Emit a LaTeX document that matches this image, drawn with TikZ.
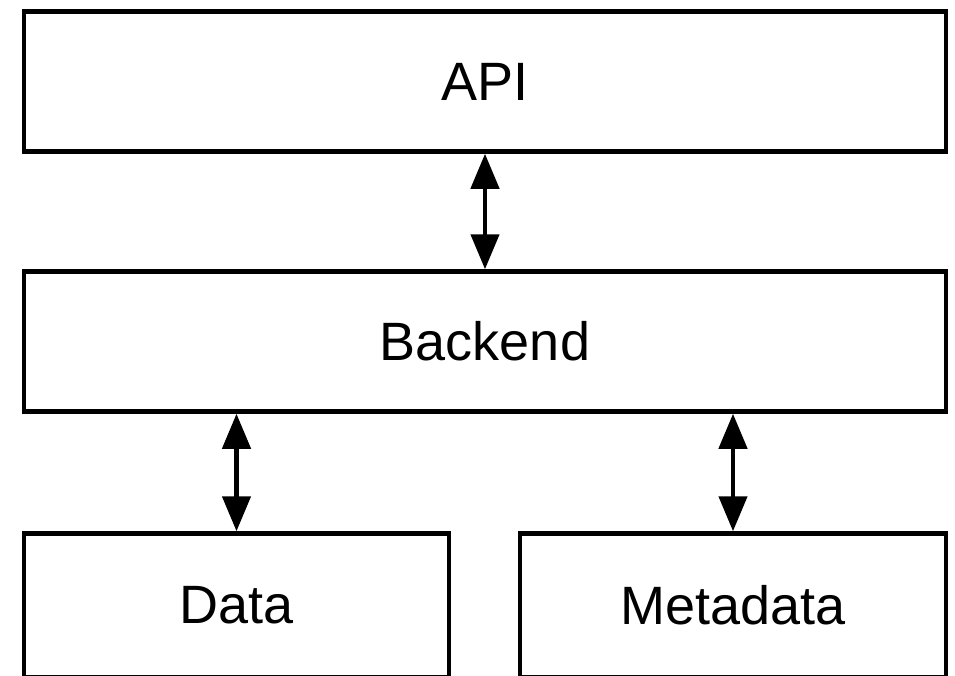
\documentclass[tikz,border=0pt]{standalone}
\usepackage{fontspec}
\setmainfont{Liberation Sans}
\usetikzlibrary{arrows.meta, calc}

\begin{document}
\begin{tikzpicture}[x=1pt,y=1pt,
>={Triangle[width=28pt,length=35pt]},line width=4.5pt,black,text=black,
layer/.style={draw,rectangle,minimum height=140pt,inner sep=0pt,
  font=\fontsize{54}{60}\selectfont}]

  \useasboundingbox (0, 0) rectangle (955, -675);

  \coordinate (apipos)     at (485  , -81.5);
  \coordinate (backendpos) at (485  , -341.5);
  \coordinate (datapos)    at (236.5, -605.5);
  \coordinate (metapos)    at (733  , -605.5);

  % layers
  \node [layer, minimum width=922pt] (api)     at (apipos)     {API};
  \node [layer, minimum width=922pt] (backend) at (backendpos) {Backend};
  \node [layer, minimum width=425pt, minimum height=144pt] (data) at (datapos) {Data};
  \node [layer, minimum width=426pt, minimum height=144pt] (meta) at (metapos) {Metadata};

  % links
  \draw [<->] (api) -- (backend);
  \draw [<->] (backend.south -| data.north) -- (data.north);
  \draw [<->] (backend.south -| meta.north) -- (meta.north);
\end{tikzpicture}
\end{document}
